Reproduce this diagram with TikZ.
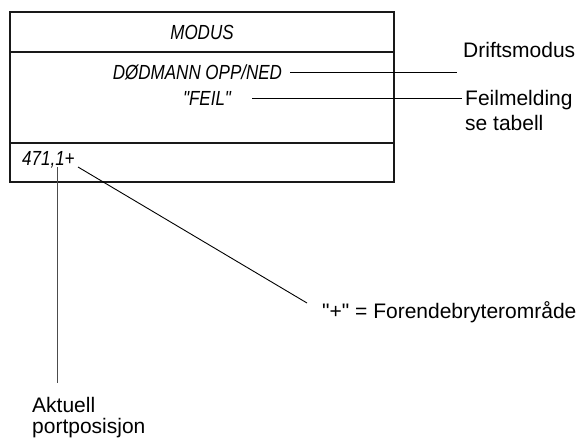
\documentclass[tikz,border=0pt]{standalone}
\usepackage{fontspec}
\usepackage{graphicx}
\setmainfont{Liberation Sans}[Ligatures=TeXOff]
\newcommand\lcdtxt[1]{\scalebox{1}[1.2]{#1}}
\begin{document}
\begin{tikzpicture}[x=1pt,y=-1pt,
  boxline/.style={line width=2.4pt,draw=black!90},
  lead/.style={line width=0.9pt,draw=black},
  lcd/.style={inner sep=0pt,font=\fontsize{17}{20}\selectfont\itshape},
  lbl/.style={inner sep=0pt,font=\fontsize{21}{25}\selectfont,align=left}]
\useasboundingbox (0,0) rectangle (579,437);
% display box
\draw[boxline] (10,12) rectangle (394,182);
\draw[boxline] (10,52) -- (394,52);
\draw[boxline] (10,143) -- (394,143);
% display texts
\node[lcd] (modus) at (202,32) {\lcdtxt{MODUS}};
\node[lcd] (dm) at (197.5,72) {\lcdtxt{DØDMANN OPP/NED}};
\node[lcd] (feil) at (207,98) {\lcdtxt{"FEIL"}};
\node[lcd,anchor=west] (pos) at (22,160) {\lcdtxt{471,1+}};
% labels
\node[lbl,anchor=base west] (drift) at (463,57) {Driftsmodus};
\node[lbl,anchor=base west] (feilm) at (465,105) {Feilmelding};
\node[lbl,anchor=base west] (setab) at (465,130) {se tabell};
\node[lbl,anchor=base west] (fore) at (322,318) {"+" = Forendebryterområde};
\node[lbl,anchor=base west] (akt) at (32,412) {Aktuell};
\node[lbl,anchor=base west] (port) at (32,433) {portposisjon};
% connector end points
\coordinate (c1) at (457,72);
\coordinate (c2) at (462,98);
\coordinate (p1) at (57,167);
\coordinate (p1e) at (57,383);
\coordinate (p2) at (78,167);
\coordinate (p2e) at (307,303);
% connectors
\draw[lead] ([xshift=8pt]dm.east) -- (c1);
\draw[lead] ([xshift=21pt]feil.east) -- (c2);
\draw[lead,draw=black!70] (p1) -- (p1e);
\draw[lead] (p2) -- (p2e);
\end{tikzpicture}
\end{document}
